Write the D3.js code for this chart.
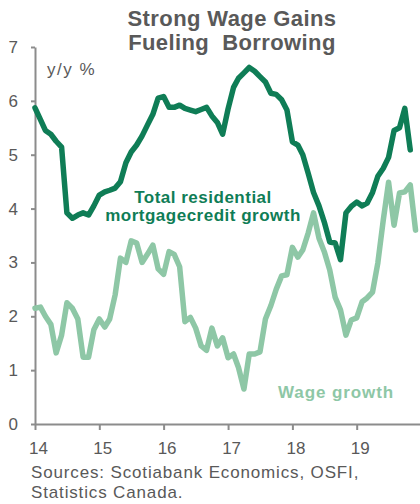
<!DOCTYPE html>
<html lang="en">

<head>
    <meta charset="UTF-8">
    <title>Strong Wage Gains Fueling Borrowing</title>
    <script src="https://cdn.jsdelivr.net/npm/d3@7"></script>
    <style>
        body {
            margin: 0;
            background: #fff;
        }

        #chart {
            width: 420px;
            height: 504px;
        }

        text {
            font-family: "Liberation Sans", Arial, sans-serif;
        }

        .axis path,
        .axis line {
            stroke: #8c8c8c;
            stroke-width: 2px;
        }

        .axis text {
            fill: #595959;
            font-size: 17px;
        }

        .serie {
            fill: none;
            stroke-width: 5.5px;
            stroke-linejoin: round;
            stroke-linecap: round;
        }
    </style>
</head>

<body>
    <div id="chart"></div>
</body>

<script>
    // 月度數據 2014-01 起
    const startYear = 2014;
    // 住宅按揭信貸增長 y/y % (至 2019-11)
    const mortgageGrowth = [
        5.87, 5.65, 5.45, 5.38, 5.25, 5.14, 3.92, 3.82, 3.88, 3.92, 3.88, 4.05,
        4.25, 4.31, 4.34, 4.38, 4.50, 4.85, 5.05, 5.18, 5.35, 5.55, 5.75, 6.05,
        6.08, 5.88, 5.88, 5.92, 5.86, 5.83, 5.80, 5.84, 5.88, 5.72, 5.60, 5.38,
        5.85, 6.25, 6.42, 6.52, 6.62, 6.55, 6.45, 6.35, 6.14, 6.12, 6.02, 5.83,
        5.24, 5.18, 5.00, 4.65, 4.30, 4.05, 3.75, 3.38, 3.36, 3.05, 3.92, 4.04,
        4.12, 4.05, 4.10, 4.30, 4.60, 4.75, 4.95, 5.45, 5.50, 5.86, 5.09
    ];
    // 工資增長 y/y % (至 2019-12)
    const wageGrowth = [
        2.15, 2.17, 2.00, 1.85, 1.32, 1.65, 2.25, 2.15, 1.95, 1.24, 1.24, 1.75,
        1.95, 1.80, 1.95, 2.40, 3.08, 3.00, 3.40, 3.36, 3.00, 3.15, 3.32, 2.88,
        2.78, 3.20, 3.15, 2.92, 1.90, 1.98, 1.78, 1.45, 1.37, 1.78, 1.45, 1.60,
        1.23, 1.30, 1.05, 0.65, 1.30, 1.30, 1.34, 1.95, 2.20, 2.50, 2.75, 2.77,
        3.28, 3.10, 3.23, 3.55, 3.92, 3.45, 3.20, 2.86, 2.35, 2.12, 1.65, 1.93,
        1.97, 2.27, 2.34, 2.45, 2.99, 3.79, 4.49, 3.69, 4.29, 4.31, 4.44, 3.60
    ];
    const yTicks = [0, 1, 2, 3, 4, 5, 6, 7];
    const xTickYears = [2014, 2015, 2016, 2017, 2018, 2019];
    const titleLines = ["Strong Wage Gains", "Fueling  Borrowing"];
    const mortgageLabel = ["Total residential", "mortgagecredit growth"];
    const sourceLines = ["Sources: Scotiabank Economics, OSFI,", "Statistics Canada."];

    let draw = () => {
        let svg = d3.select("#chart").append("svg")
            .attr("class", "chart")
            .attr("width", 420)
            .attr("height", 504);

        // 繪圖區邊界
        let padding = { top: 47, left: 35, bottom: 80, right: 0 };
        let height = 504 - padding.top - padding.bottom;

        let toDate = (i) => new Date(startYear, i, 1);

        let x = d3.scaleTime()
            .domain([new Date(2014, 0, 1), new Date(2020, 0, 1)])
            .range([padding.left, 421]);
        let y = d3.scaleLinear()
            .domain([0, 7])
            .range([padding.top + height, padding.top]);

        //////////////////////*座標軸*//////////////////////
        let yAxis = d3.axisLeft(y)
            .tickValues(yTicks)
            .tickFormat(d3.format("d"))
            .tickSizeInner(4)
            .tickSizeOuter(0)
            .tickPadding(13);
        svg.append("g")
            .attr("class", "axis yaxis")
            .attr("transform", "translate(" + padding.left + ",0)")
            .call(yAxis);

        let xAxis = d3.axisBottom(x)
            .tickValues(xTickYears.map(yr => new Date(yr, 0, 1)))
            .tickFormat(d => String(d.getFullYear()).slice(2))
            .tickSizeInner(6)
            .tickSizeOuter(0)
            .tickPadding(12);
        svg.append("g")
            .attr("class", "axis xaxis")
            .attr("transform", "translate(0," + y(0) + ")")
            .call(xAxis);
        svg.select(".xaxis").selectAll(".tick text").attr("dx", "3");

        //////////////////////*線條*//////////////////////
        let line = d3.line()
            .x((d, i) => x(toDate(i)))
            .y(d => y(d));

        svg.append("path")
            .datum(wageGrowth)
            .attr("class", "serie")
            .attr("stroke", "#8ec7a6")
            .attr("d", line);

        svg.append("path")
            .datum(mortgageGrowth)
            .attr("class", "serie")
            .attr("stroke", "#0f7d56")
            .attr("d", line);

        //////////////////////*文字*//////////////////////
        svg.selectAll(".title")
            .data(titleLines)
            .enter()
            .append("text")
            .attr("class", "title")
            .attr("x", 232)
            .attr("y", (d, i) => 26 + i * 24)
            .attr("text-anchor", "middle")
            .attr("fill", "#595959")
            .attr("font-size", "22px")
            .attr("font-weight", "bold")
            .attr("letter-spacing", "0.4px")
            .style("white-space", "pre")
            .text(d => d);

        svg.append("text")
            .attr("x", 47)
            .attr("y", 75)
            .attr("fill", "#595959")
            .attr("font-size", "17px")
            .attr("letter-spacing", "1.5px")
            .text("y/y %");

        svg.selectAll(".mlabel")
            .data(mortgageLabel)
            .enter()
            .append("text")
            .attr("class", "mlabel")
            .attr("x", 203)
            .attr("y", (d, i) => 203 + i * 18)
            .attr("text-anchor", "middle")
            .attr("fill", "#0f7d56")
            .attr("font-size", "17px")
            .attr("font-weight", "bold")
            .attr("letter-spacing", "0.5px")
            .text(d => d);

        svg.append("text")
            .attr("x", 278)
            .attr("y", 398)
            .attr("fill", "#8ec7a6")
            .attr("font-size", "17px")
            .attr("font-weight", "bold")
            .attr("letter-spacing", "0.9px")
            .text("Wage growth");

        svg.selectAll(".source")
            .data(sourceLines)
            .enter()
            .append("text")
            .attr("class", "source")
            .attr("x", 31)
            .attr("y", (d, i) => 478 + i * 20)
            .attr("fill", "#595959")
            .attr("font-size", "17px")
            .attr("letter-spacing", "0.85px")
            .text(d => d);
    }

    draw();
</script>

</html>
